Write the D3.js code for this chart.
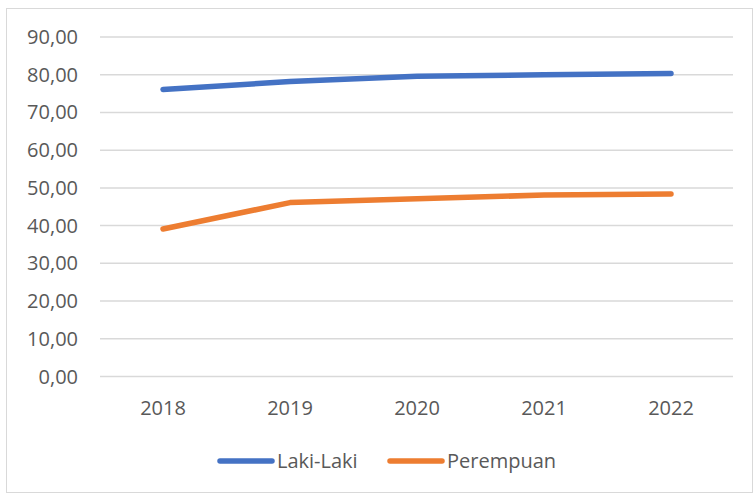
<!DOCTYPE html>
<html>
<head>
<meta charset="utf-8">
<script src="https://cdn.jsdelivr.net/npm/d3@7"></script>
<style>
  body { margin: 0; background: #fff; }
  text { font-family: "Open Sans", "Noto Sans", sans-serif; fill: #595959; }
</style>
</head>
<body>
<div id="chart"></div>
<script>
var years = ["2018", "2019", "2020", "2021", "2022"];
var lakiLaki = [76.1, 78.2, 79.6, 80.0, 80.3];
var perempuan = [39.1, 46.1, 47.1, 48.1, 48.4];
var yTicks = [0, 10, 20, 30, 40, 50, 60, 70, 80, 90];

var series = [
    { name: "Laki-Laki", values: lakiLaki, color: "#4472C4" },
    { name: "Perempuan", values: perempuan, color: "#ED7D31" }
];

var width = 754,
    height = 494;

var svg = d3.select("#chart").append("svg")
    .attr("width", width)
    .attr("height", height);

// chart border
svg.append("rect")
    .attr("x", 6.5).attr("y", 8.5)
    .attr("width", 746).attr("height", 484)
    .attr("fill", "none")
    .attr("stroke", "#d9d9d9");

var x = d3.scalePoint()
    .domain(years)
    .range([163, 671]);

var y = d3.scaleLinear()
    .domain([0, 90])
    .range([376.5, 37]);

var plotLeft = 100, plotRight = 733;

// gridlines
svg.append("g")
    .selectAll("line")
    .data(yTicks)
    .enter()
    .append("line")
    .attr("x1", plotLeft)
    .attr("x2", plotRight)
    .attr("y1", function(d) { return y(d); })
    .attr("y2", function(d) { return y(d); })
    .attr("stroke", "#d9d9d9")
    .attr("stroke-width", 1.5);

// y labels
svg.append("g")
    .selectAll("text")
    .data(yTicks)
    .enter()
    .append("text")
    .attr("x", 78)
    .attr("y", function(d) { return y(d); })
    .attr("dy", "0.35em")
    .attr("text-anchor", "end")
    .style("font-size", "20px")
    .text(function(d) { return d3.format(".2f")(d).replace(".", ","); });

// x labels
svg.append("g")
    .selectAll("text")
    .data(years)
    .enter()
    .append("text")
    .attr("x", function(d) { return x(d); })
    .attr("y", 408)
    .attr("dy", "0.35em")
    .attr("text-anchor", "middle")
    .style("font-size", "20px")
    .text(function(d) { return d; });

// lines
var line = d3.line()
    .x(function(d, i) { return x(years[i]); })
    .y(function(d) { return y(d); });

svg.append("g")
    .selectAll("path")
    .data(series)
    .enter()
    .append("path")
    .attr("d", function(s) { return line(s.values); })
    .attr("fill", "none")
    .attr("stroke", function(s) { return s.color; })
    .attr("stroke-width", 5.5)
    .attr("stroke-linecap", "round")
    .attr("stroke-linejoin", "round");

// legend
var legendX = [220, 390];
var legend = svg.append("g")
    .selectAll("g")
    .data(series)
    .enter()
    .append("g")
    .attr("transform", function(d, i) { return "translate(" + legendX[i] + ",461)"; });

legend.append("line")
    .attr("x1", 0).attr("x2", 52)
    .attr("y1", 0).attr("y2", 0)
    .attr("stroke", function(d) { return d.color; })
    .attr("stroke-width", 5.5)
    .attr("stroke-linecap", "round");

legend.append("text")
    .attr("x", 57)
    .attr("y", 0)
    .attr("dy", "0.35em")
    .style("font-size", "20px")
    .text(function(d) { return d.name; });
</script>
</body>
</html>
